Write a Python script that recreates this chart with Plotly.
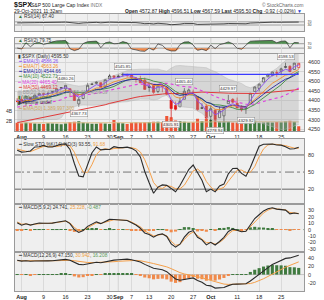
import numpy as np
import pandas as pd
import plotly.graph_objects as go

# ---------------- data ----------------
dates = ["Jul 30",
         "Aug 2", "Aug 3", "Aug 4", "Aug 5", "Aug 6",
         "Aug 9", "Aug 10", "Aug 11", "Aug 12", "Aug 13",
         "Aug 16", "Aug 17", "Aug 18", "Aug 19", "Aug 20",
         "Aug 23", "Aug 24", "Aug 25", "Aug 26", "Aug 27",
         "Aug 30", "Aug 31",
         "Sep 1", "Sep 2", "Sep 3",
         "Sep 7", "Sep 8", "Sep 9", "Sep 10",
         "Sep 13", "Sep 14", "Sep 15", "Sep 16", "Sep 17",
         "Sep 20", "Sep 21", "Sep 22", "Sep 23", "Sep 24",
         "Sep 27", "Sep 28", "Sep 29", "Sep 30",
         "Oct 1",
         "Oct 4", "Oct 5", "Oct 6", "Oct 7", "Oct 8",
         "Oct 11", "Oct 12", "Oct 13", "Oct 14", "Oct 15",
         "Oct 18", "Oct 19", "Oct 20", "Oct 21", "Oct 22",
         "Oct 25", "Oct 26", "Oct 27", "Oct 28", "Oct 29"]

open_ = [4395.12, 4406.86, 4392.74, 4415.95, 4408.86, 4429.07,
         4437.77, 4435.79, 4442.18, 4446.08, 4464.84,
         4461.65, 4462.12, 4440.94, 4382.44, 4410.56,
         4450.29, 4484.40, 4490.45, 4493.75, 4474.10,
         4513.76, 4529.75,
         4528.80, 4534.48, 4532.42,
         4535.38, 4518.09, 4513.02, 4506.92,
         4474.81, 4479.33, 4447.49, 4477.09, 4469.74,
         4402.95, 4374.45, 4367.43, 4406.75, 4438.04,
         4442.12, 4419.54, 4362.41, 4370.67,
         4317.16,
         4348.84, 4309.87, 4319.57, 4383.73, 4406.51,
         4385.44, 4368.31, 4358.01, 4386.75, 4447.69,
         4463.72, 4497.34, 4524.42, 4532.24, 4546.12,
         4553.69, 4578.69, 4580.22, 4562.84, 4572.87]

high = [4412.25, 4422.18, 4423.79, 4416.17, 4429.76, 4440.82,
        4439.39, 4445.21, 4449.44, 4461.77, 4468.37,
        4480.26, 4462.12, 4454.32, 4418.61, 4444.35,
        4489.88, 4492.81, 4501.71, 4495.90, 4513.33,
        4537.36, 4531.39,
        4537.11, 4545.85, 4541.45,
        4535.38, 4521.79, 4529.90, 4520.47,
        4492.99, 4485.68, 4486.87, 4485.87, 4471.52,
        4402.95, 4394.87, 4416.75, 4465.40, 4463.12,
        4457.30, 4419.54, 4385.57, 4382.55,
        4375.19,
        4355.51, 4369.23, 4365.57, 4429.97, 4412.02,
        4415.88, 4374.89, 4372.87, 4439.73, 4475.82,
        4488.75, 4520.40, 4540.87, 4551.44, 4559.67,
        4572.62, 4598.53, 4584.57, 4597.55, 4596.51]

low = [4389.65, 4384.81, 4373.00, 4400.23, 4408.86, 4429.07,
       4424.74, 4430.03, 4436.42, 4435.96, 4460.82,
       4437.66, 4417.83, 4397.59, 4367.73, 4406.80,
       4450.29, 4482.28, 4485.66, 4468.99, 4474.10,
       4513.76, 4515.80,
       4522.02, 4524.66, 4521.94,
       4513.00, 4493.95, 4492.07, 4457.66,
       4445.70, 4435.46, 4438.37, 4443.80, 4427.76,
       4305.91, 4347.96, 4367.43, 4406.75, 4430.27,
       4436.19, 4346.33, 4355.08, 4306.24,
       4288.52,
       4278.94, 4309.87, 4290.49, 4383.73, 4386.22,
       4360.59, 4342.09, 4329.92, 4386.75, 4447.69,
       4447.47, 4496.41, 4524.40, 4526.89, 4524.00,
       4537.36, 4569.17, 4551.66, 4562.84, 4567.59]

close = [4395.26, 4387.16, 4423.15, 4402.66, 4429.10, 4436.52,
         4432.35, 4436.75, 4447.70, 4460.83, 4468.00,
         4479.71, 4448.08, 4400.27, 4405.80, 4441.67,
         4479.53, 4486.23, 4496.19, 4470.00, 4509.37,
         4528.79, 4522.68,
         4524.09, 4536.95, 4535.43,
         4520.03, 4514.07, 4493.28, 4458.58,
         4468.73, 4443.05, 4480.70, 4473.75, 4432.99,
         4357.73, 4354.19, 4395.64, 4448.98, 4455.48,
         4443.11, 4352.63, 4359.46, 4307.54,
         4357.04,
         4300.46, 4345.72, 4363.55, 4399.76, 4391.34,
         4361.19, 4350.65, 4363.80, 4438.26, 4471.37,
         4486.46, 4519.63, 4536.19, 4549.78, 4544.90,
         4566.48, 4574.79, 4551.68, 4596.42, 4595.50]

volume_b = [1.62, 1.55, 1.68, 1.58, 1.47, 1.45,
            1.40, 1.52, 1.48, 1.45, 1.35,
            1.50, 1.80, 1.85, 1.95, 1.70,
            1.55, 1.45, 1.45, 1.55, 1.50,
            1.40, 2.20,
            1.65, 1.55, 1.40,
            1.65, 1.75, 1.70, 1.75,
            1.80, 1.85, 1.85, 1.80, 3.00,
            2.75, 2.10, 1.95, 1.85, 1.70,
            1.75, 2.45, 1.95, 2.40,
            2.25,
            2.15, 1.95, 1.95, 1.90, 1.70,
            1.70, 1.80, 1.85, 1.90, 2.05,
            1.65, 1.70, 1.75, 1.70, 1.80,
            1.75, 1.95, 2.05, 1.85, 0.95]

# earlier history (May 17 - Jul 29) used only to warm up the indicators
prior_close = [4163.29, 4127.83, 4115.68, 4159.12, 4155.86, 4197.05, 4188.13, 4195.99,
               4200.88, 4204.11, 4202.04, 4208.12, 4192.85, 4229.89, 4226.52, 4227.26,
               4219.55, 4239.18, 4247.44, 4255.15, 4246.59, 4223.70, 4221.86, 4166.45,
               4224.79, 4246.44, 4241.84, 4266.49, 4280.70, 4290.61, 4291.80, 4297.50,
               4319.94, 4352.34, 4343.54, 4358.13, 4320.82, 4369.55, 4384.63, 4369.21,
               4374.30, 4360.03, 4327.16, 4258.49, 4323.06, 4358.69, 4367.48, 4411.79,
               4422.30, 4401.46, 4400.64, 4419.15]
prior_high = [4386.68, 4393.40, 4393.68, 4378.88, 4375.09, 4301.79, 4336.84,
              4359.70, 4369.87, 4415.18, 4422.73, 4415.47, 4415.96, 4429.97]
prior_low = [4364.03, 4362.30, 4362.36, 4340.01, 4322.53, 4233.13, 4262.05,
             4320.96, 4350.61, 4371.60, 4405.45, 4360.59, 4387.01, 4416.28]

# price labels drawn on the chart (date, value, above/below)
mark_dates = ["Aug 16", "Aug 19", "Sep 2", "Sep 20", "Sep 23", "Oct 4", "Oct 7", "Oct 13", "Oct 26"]
mark_vals = [4480.26, 4367.73, 4545.85, 4305.91, 4465.40, 4278.94, 4429.97, 4329.92, 4598.53]
mark_pos = ["up", "down", "up", "down", "up", "down", "up", "down", "up"]

hline_start = "Sep 2"
hline_level = 4536.95

tick_dates = ["Aug 2", "Aug 9", "Aug 16", "Aug 23", "Aug 30", "Sep 1", "Sep 7", "Sep 13",
              "Sep 20", "Sep 27", "Oct 1", "Oct 11", "Oct 18", "Oct 25"]
tick_text = ["<b>Aug</b>", "9", "16", "23", "30", "<b>Sep</b>", "7", "13",
             "20", "27", "<b>Oct</b>", "11", "18", "25"]
month_dates = ["Sep 1", "Oct 1"]

# ---------------- indicators ----------------
n = len(dates)
n0 = len(prior_close)
allc = pd.Series(prior_close + close)


def ema(s, span):
    return s.ewm(span=span, adjust=False).mean()


def tail(s):
    return list(s.iloc[n0:].values)


ema3 = tail(ema(allc, 3))
ema7 = tail(ema(allc, 7))
ema10 = tail(ema(allc, 10))
ma10 = tail(allc.rolling(10).mean())
ma20s = allc.rolling(20).mean()
sd20 = allc.rolling(20).std(ddof=0)
ma20 = tail(ma20s)
bbu = tail(ma20s + 2 * sd20)
bbl = tail(ma20s - 2 * sd20)
ma50 = tail(allc.rolling(50, min_periods=1).mean())

m1 = ema(allc, 5) - ema(allc, 9)
s1 = ema(m1, 2)
macd1, sig1, hist1 = tail(m1), tail(s1), tail(m1 - s1)
m2 = ema(allc, 12) - ema(allc, 26)
s2 = ema(m2, 9)
macd2, sig2, hist2 = tail(m2), tail(s2), tail(m2 - s2)


def rsi(s, p):
    d = s.diff()
    up = d.clip(lower=0)
    dn = -d.clip(upper=0)
    au = up.ewm(alpha=1 / p, adjust=False).mean()
    ad = dn.ewm(alpha=1 / p, adjust=False).mean()
    return 100 - 100 / (1 + au / ad)


rsi14 = np.array(tail(rsi(allc, 14)))
rsi2 = np.array(tail(rsi(allc, 2)))

H = pd.Series(prior_high + high)
L = pd.Series(prior_low + low)
C = pd.Series(prior_close[-len(prior_high):] + close)
hh = H.rolling(14, min_periods=1).max()
ll = L.rolling(14, min_periods=1).min()
fk = 100 * (C - ll) / (hh - ll)
sk = fk.rolling(3, min_periods=1).mean()
sdd = sk.rolling(3, min_periods=1).mean()
k0 = len(prior_high)
stok = list(sk.iloc[k0:].values)
stod = list(sdd.iloc[k0:].values)

vol = [v * 1e9 for v in volume_b]
vol_ema = list(ema(pd.Series(vol), 50).values)

prev_close = [prior_close[-1]] + close[:-1]

# ---------------- layout helpers ----------------
W, Hh = 324, 300
FONT = "Liberation Sans, Arial, sans-serif"


def px(x):
    return x / W


def py(y):
    return 1 - y / Hh


def dom(t, b):
    return [1 - b / Hh, 1 - t / Hh]


XD = [px(15), px(304)]
panels = {  # name: (top, bottom)
    "rsi14": (13.5, 31),
    "rsi2": (37.5, 53),
    "main": (53.5, 131),
    "sto": (139, 204),
    "m1": (204, 252),
    "m2": (252, 291),
}

fig = go.Figure()

GREEN = "#3f7a3f"
RED = "#ee5535"
ORANGE = "#f5a04a"

# ---- RSI(14) ----
fig.add_trace(go.Scatter(x=dates, y=rsi14, mode="lines", line=dict(color="#222", width=0.8),
                         xaxis="x", yaxis="y"))
# ---- RSI(2) ----
fig.add_trace(go.Scatter(x=dates, y=[70] * n, mode="lines", line=dict(width=0), xaxis="x2", yaxis="y2"))
fig.add_trace(go.Scatter(x=dates, y=np.maximum(rsi2, 70), mode="lines", line=dict(width=0),
                         fill="tonexty", fillcolor="#4f8f4f", xaxis="x2", yaxis="y2"))
fig.add_trace(go.Scatter(x=dates, y=[30] * n, mode="lines", line=dict(width=0), xaxis="x2", yaxis="y2"))
fig.add_trace(go.Scatter(x=dates, y=np.minimum(rsi2, 30), mode="lines", line=dict(width=0),
                         fill="tonexty", fillcolor="#f08a4b", xaxis="x2", yaxis="y2"))
fig.add_trace(go.Scatter(x=dates, y=rsi2, mode="lines", line=dict(color="#333", width=0.7),
                         xaxis="x2", yaxis="y2"))

# ---- main: volume ----
vcol = [GREEN if close[i] >= prev_close[i] else RED for i in range(n)]
fig.add_trace(go.Bar(x=dates, y=vol, marker=dict(color=vcol, line=dict(width=0)), width=0.7,
                     xaxis="x3", yaxis="y3"))
fig.add_trace(go.Scatter(x=dates, y=vol_ema, mode="lines", line=dict(color="#d9bf8c", width=1),
                         xaxis="x3", yaxis="y3"))
# ---- main: price overlays ----
fig.add_trace(go.Scatter(x=dates, y=bbu, mode="lines", line=dict(color="#b8b8b8", width=0.5),
                         xaxis="x3", yaxis="y4"))
fig.add_trace(go.Scatter(x=dates, y=bbl, mode="lines", line=dict(color="#b8b8b8", width=0.5),
                         fill="tonexty", fillcolor="rgba(170,170,170,0.35)", xaxis="x3", yaxis="y4"))
fig.add_trace(go.Scatter(x=dates, y=ma50, mode="lines", line=dict(color="#e03a3a", width=1),
                         xaxis="x3", yaxis="y4"))
fig.add_trace(go.Scatter(x=dates, y=ma20, mode="lines", line=dict(color="#e040e0", width=1.1, dash="dot"),
                         xaxis="x3", yaxis="y4"))
fig.add_trace(go.Scatter(x=dates, y=ma10, mode="lines", line=dict(color="#3d8a3d", width=0.9),
                         xaxis="x3", yaxis="y4"))
fig.add_trace(go.Scatter(x=dates, y=ema10, mode="lines", line=dict(color="#22229a", width=0.9),
                         xaxis="x3", yaxis="y4"))
fig.add_trace(go.Scatter(x=dates, y=ema7, mode="lines", line=dict(color="#f08c2a", width=0.9),
                         xaxis="x3", yaxis="y4"))
fig.add_trace(go.Scatter(x=dates, y=ema3, mode="lines", line=dict(color="#8a4cf0", width=0.9),
                         xaxis="x3", yaxis="y4"))
hs = dates.index(hline_start)
fig.add_trace(go.Scatter(x=[dates[hs], dates[-1]], y=[hline_level, hline_level], mode="lines",
                         line=dict(color="#3a3aff", width=1.2), xaxis="x3", yaxis="y4"))

# candles: black when close >= previous close, red otherwise
for is_up, col in ((True, "#222222"), (False, "#e01818")):
    ids = [i for i in range(n) if (close[i] >= prev_close[i]) == is_up]
    fig.add_trace(go.Candlestick(
        x=[dates[i] for i in ids], open=[open_[i] for i in ids], high=[high[i] for i in ids],
        low=[low[i] for i in ids], close=[close[i] for i in ids],
        increasing=dict(line=dict(color=col, width=0.7), fillcolor="#ffffff"),
        decreasing=dict(line=dict(color=col, width=0.7), fillcolor=col),
        whiskerwidth=0, xaxis="x3", yaxis="y4"))

# ---- STO ----
fig.add_trace(go.Scatter(x=dates, y=stod, mode="lines", line=dict(color=ORANGE, width=1),
                         xaxis="x5", yaxis="y5"))
fig.add_trace(go.Scatter(x=dates, y=stok, mode="lines", line=dict(color="#2a2a2a", width=1.1),
                         xaxis="x5", yaxis="y5"))

# ---- MACD(5,9,2) ----
fig.add_trace(go.Bar(x=dates, y=hist1, marker=dict(color=[GREEN if v >= 0 else "#f08a4b" for v in hist1],
                                                    line=dict(width=0)), width=0.7, xaxis="x6", yaxis="y6"))
fig.add_trace(go.Scatter(x=dates, y=sig1, mode="lines", line=dict(color=ORANGE, width=1),
                         xaxis="x6", yaxis="y6"))
fig.add_trace(go.Scatter(x=dates, y=macd1, mode="lines", line=dict(color="#2a2a2a", width=1.1),
                         xaxis="x6", yaxis="y6"))

# ---- MACD(12,26,9) ----
fig.add_trace(go.Bar(x=dates, y=hist2, marker=dict(color=[GREEN if v >= 0 else "#f08a4b" for v in hist2],
                                                    line=dict(width=0)), width=0.7, xaxis="x7", yaxis="y7"))
fig.add_trace(go.Scatter(x=dates, y=sig2, mode="lines", line=dict(color=ORANGE, width=1),
                         xaxis="x7", yaxis="y7"))
fig.add_trace(go.Scatter(x=dates, y=macd2, mode="lines", line=dict(color="#2a2a2a", width=1.1),
                         xaxis="x7", yaxis="y7"))

# ---------------- axes ----------------
xr = [-0.5, 65.2]


def xax(anchor, labels=False, match=True):
    d = dict(domain=XD, anchor=anchor, type="category", range=xr, showgrid=True,
             gridcolor="#dadada", gridwidth=0.5, tickvals=tick_dates, ticktext=tick_text,
             showticklabels=labels, ticks="", zeroline=False, showline=True, mirror=True,
             linecolor="#9a9a9a", linewidth=0.7, rangeslider=dict(visible=False),
             tickangle=0, automargin=False,
             tickfont=dict(size=5.5, family=FONT, color="#222"), ticklabelstandoff=1)
    if match:
        d["matches"] = "x"
    return d


def yax(anchor, rng, tv, tt=None, pname=None, size=5.5, grid=False):
    d = dict(domain=dom(*panels[pname]), anchor=anchor, range=rng, side="right",
             tickvals=tv, ticktext=tt if tt is not None else [str(v) for v in tv],
             tickfont=dict(size=size, family=FONT, color="#333"), ticks="",
             showgrid=grid, gridcolor="#d6d6d6", gridwidth=0.5, zeroline=False,
             showline=True, mirror=True, linecolor="#9a9a9a", linewidth=0.7,
             fixedrange=True, ticklabelstandoff=2, automargin=False)
    return d


layout = dict(
    width=W, height=Hh, autosize=False, margin=dict(l=0, r=0, t=0, b=0),
    paper_bgcolor="#ffffff", plot_bgcolor="#efefef", showlegend=False,
    font=dict(family=FONT, size=6, color="#222"), bargap=0.3,
    xaxis=xax("y", match=False),
    xaxis2=xax("y2"),
    xaxis3=xax("y3", labels=True),
    xaxis5=xax("y5"),
    xaxis6=xax("y6"),
    xaxis7=xax("y7", labels=True),
    yaxis=yax("x", [-45, 175], [30, 70], pname="rsi14", size=3.5),
    yaxis2=yax("x2", [-14, 126], [30, 70], pname="rsi2", size=3.5),
    yaxis3=dict(domain=dom(*panels["main"]), anchor="x3", range=[0, 15.4e9], side="left",
                tickvals=[2e9, 4e9], ticktext=["2B", "4B"], ticks="", showgrid=False,
                zeroline=False, showline=False, fixedrange=True, automargin=False,
                tickfont=dict(size=5, family=FONT, color="#333"), ticklabelstandoff=2),
    yaxis4=dict(overlaying="y3", anchor="x3", side="right", range=[4240, 4647],
                tickvals=list(range(4250, 4601, 50)),
                tickfont=dict(size=5.5, family=FONT, color="#333"), ticks="",
                showgrid=True, gridcolor="#d6d6d6", gridwidth=0.5, zeroline=False,
                showline=True, mirror=True, linecolor="#9a9a9a", linewidth=0.7,
                fixedrange=True, ticklabelstandoff=2, automargin=False),
    yaxis5=yax("x5", [-6, 108], [20, 50, 80], pname="sto"),
    yaxis6=yax("x6", [-35, 40], [-30, -20, -10, 0, 10, 20, 30], pname="m1"),
    yaxis7=yax("x7", [-40, 55], [-20, 0, 20, 40], pname="m2"),
)
fig.update_layout(**layout)

# ---------------- shapes ----------------
shapes = []


def hl(yref, xref, level, color="#555", width=0.8, dash="solid"):
    shapes.append(dict(type="line", xref=xref + " domain", x0=0, x1=1, yref=yref, y0=level, y1=level,
                       line=dict(color=color, width=width, dash=dash), layer="below"))


hl("y", "x", 70, "#666", 0.6)
hl("y", "x", 30, "#666", 0.6)
hl("y2", "x2", 70, "#666", 0.6)
hl("y2", "x2", 30, "#666", 0.6)
hl("y5", "x5", 80, "#555", 0.9)
hl("y5", "x5", 20, "#555", 0.9)
hl("y5", "x5", 50, "#555", 0.8, "dashdot")
hl("y6", "x6", 0, "#7a9a7a", 0.7, "dash")
hl("y7", "x7", 0, "#9a9a9a", 0.5)

for md in month_dates:
    for xa, ya in (("x", "y"), ("x2", "y2"), ("x3", "y3"), ("x5", "y5"), ("x6", "y6"), ("x7", "y7")):
        shapes.append(dict(type="line", xref=xa, x0=md, x1=md, yref=ya + " domain", y0=0, y1=1,
                           line=dict(color="#b4b4b4", width=0.7), layer="below"))
fig.update_layout(shapes=shapes)

# ---------------- annotations ----------------
ann = []


def text(x, y, t, size=5, color="#222", xanchor="left", bold=False):
    ann.append(dict(x=px(x), y=py(y), xref="paper", yref="paper", text=("<b>%s</b>" % t) if bold else t,
                    showarrow=False, xanchor=xanchor, yanchor="middle",
                    font=dict(size=size, family=FONT, color=color)))


# header
text(12, 4.6, "<b>$SPX</b>", size=7, color="#111")
text(29, 4.8, "S&P 500 Large Cap Index <span style='color:#777'>INDX</span>", size=5, color="#222")
text(305, 4.6, "© StockCharts.com", size=4.8, color="#666", xanchor="right")
text(12, 10.8, "29-Oct-2021 11:32am", size=5)
text(304, 10.8, "<b>Open</b> 4572.87 <b>High</b> 4596.51 <b>Low</b> 4567.59 <b>Last</b> 4595.50 "
                "<b>Chg</b> -0.92 (-0.02%) <span style='color:#2040d0'>▼</span>", size=5, xanchor="right")

# panel legends
text(16, 16.2, "<span style='color:#3a7a3a'>▲</span> RSI(14) 67.40", size=4.8, color="#333")
text(16, 40.6, "<span style='color:#3a7a3a'>▲</span> RSI(2) 79.75", size=4.8, color="#333")

leg = [("▮ $SPX (Daily) 4595.50", "#333"),
       ("━ EMA(3) 4586.26", "#8a4cf0"),
       ("━ EMA(7) 4563.26", "#f08c2a"),
       ("━ EMA(10) 4544.66", "#22229a"),
       ("━ MA(10) 4522.71", "#3d8a3d"),
       ("┅ MA(20) 4465.40", "#e040e0"),
       ("━ MA(50) 4469.12", "#e03a3a"),
       ("▒ BB(20,2.0) 4274.41 - 4465.40 - 4656.39", "#999999"),
       ("▮ Volume undef", "#3f7a3f"),
       ("▮ Volume undef", "#333333"),
       ("━ EMA(50) 1,389,997,300", "#d0a860")]
for k, (t, c) in enumerate(leg):
    text(16, 56.2 + 5.2 * k, t, size=4.8, color=c)

text(16, 144, "━ Slow STO %K(14) %D(3) 93.55, <span style='color:#f0a040'>91.68</span>", size=4.8, color="#333")
text(16, 207.5, "━ MACD(5,9,2) 24.741, <span style='color:#f0a040'>25.228</span>, "
                "<span style='color:#5a9a5a'>-0.487</span>", size=4.8, color="#333")
text(16, 255.5, "━ MACD(12,26,9) 47.150, <span style='color:#f0a040'>30.942</span>, "
                "<span style='color:#5a9a5a'>16.208</span>", size=4.8, color="#333")

# price marks
for d, v, p in zip(mark_dates, mark_vals, mark_pos):
    ann.append(dict(x=d, y=v, xref="x3", yref="y4", text="%.2f" % v, showarrow=False,
                    xanchor="center", yanchor="bottom" if p == "up" else "top",
                    yshift=3 if p == "up" else -3,
                    font=dict(size=4.3, family=FONT, color="#333"),
                    bgcolor="rgba(255,255,255,0.85)", bordercolor="#888", borderwidth=0.5, borderpad=0.5))

fig.update_layout(annotations=ann)

fig.write_html("out.html")
